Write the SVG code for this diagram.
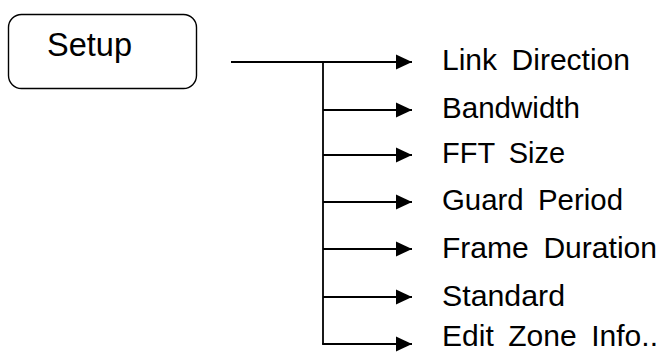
<svg xmlns="http://www.w3.org/2000/svg" width="664" height="352" viewBox="0 0 664 352">
<style>
.box{fill:#fff;stroke:#000;stroke-width:1.4}
.ln{fill:none;stroke:#000;stroke-width:1.8}
.t{font-family:"Liberation Sans",Arial,sans-serif;fill:#000}
.item{font-size:29px;word-spacing:6px}
</style>
<defs>
<marker id="ah" markerUnits="userSpaceOnUse" markerWidth="17" markerHeight="16" refX="16" refY="8" orient="auto">
<path d="M0,0.5 L16,8 L0,15.5 Z" fill="#000"/>
</marker>
</defs>
<rect width="664" height="352" fill="#fff"/>
<g id="setup">
<rect class="box" x="8.5" y="14.5" width="188" height="74" rx="13"/>
<text class="t" x="47" y="56" font-size="33" textLength="85" lengthAdjust="spacingAndGlyphs">Setup</text>
</g>
<g id="connectors">
<line class="ln" x1="231" y1="62" x2="323" y2="62"/>
<line class="ln" x1="323" y1="61" x2="323" y2="344"/>
<line class="ln" x1="323" y1="62" x2="412" y2="62" marker-end="url(#ah)"/>
<line class="ln" x1="323" y1="110" x2="412" y2="110" marker-end="url(#ah)"/>
<line class="ln" x1="323" y1="155" x2="412" y2="155" marker-end="url(#ah)"/>
<line class="ln" x1="323" y1="202" x2="412" y2="202" marker-end="url(#ah)"/>
<line class="ln" x1="323" y1="249" x2="412" y2="249" marker-end="url(#ah)"/>
<line class="ln" x1="323" y1="297" x2="412" y2="297" marker-end="url(#ah)"/>
<line class="ln" x1="322.1" y1="344" x2="412" y2="344" marker-end="url(#ah)"/>
</g>
<g id="link-direction"><text class="t item" x="442" y="70" textLength="188" lengthAdjust="spacingAndGlyphs">Link Direction</text></g>
<g id="bandwidth"><text class="t item" x="442" y="118" textLength="138" lengthAdjust="spacingAndGlyphs">Bandwidth</text></g>
<g id="fft-size"><text class="t item" x="442" y="163" textLength="123" lengthAdjust="spacingAndGlyphs">FFT Size</text></g>
<g id="guard-period"><text class="t item" x="442" y="210" textLength="181" lengthAdjust="spacingAndGlyphs">Guard Period</text></g>
<g id="frame-duration"><text class="t item" x="442" y="258" textLength="215" lengthAdjust="spacingAndGlyphs">Frame Duration</text></g>
<g id="standard"><text class="t item" x="442" y="306" textLength="123" lengthAdjust="spacingAndGlyphs">Standard</text></g>
<g id="edit-zone-info"><text class="t item" x="442" y="346" font-size="28" textLength="216" lengthAdjust="spacingAndGlyphs">Edit Zone Info..</text></g>
</svg>
